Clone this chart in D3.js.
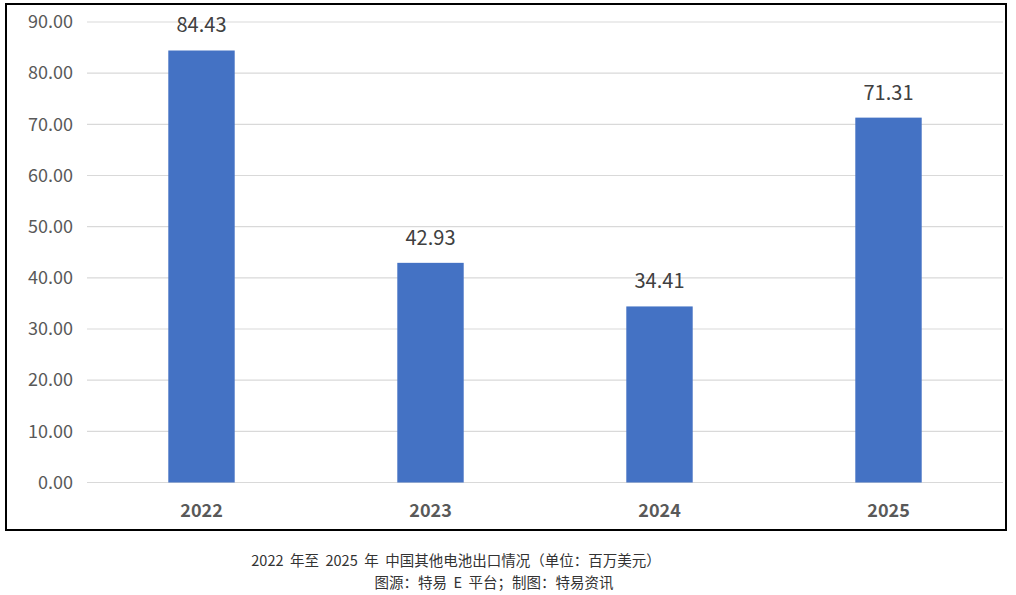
<!DOCTYPE html>
<html>
<head>
<meta charset="utf-8">
<script src="https://cdn.jsdelivr.net/npm/d3@7"></script>
<style>
  body { margin: 0; background: #fff; }
  text { font-family: "Noto Sans CJK SC", "Noto Sans", sans-serif; }
</style>
</head>
<body>
<svg id="chart" width="1016" height="595"></svg>
<script>
const years = ['2022', '2023', '2024', '2025']
const exportValues = [84.43, 42.93, 34.41, 71.31]
const yTicks = [0, 10, 20, 30, 40, 50, 60, 70, 80, 90]
const captionLines = [
    '2022\u00a0\u00a0年至\u00a0\u00a02025\u00a0\u00a0年\u00a0\u00a0中国其他电池出口情况（单位：百万美元）',
    '图源：特易\u00a0\u00a0E\u00a0\u00a0平台；制图：特易资讯'
]

const svg = d3.select('#chart')

// outer frame
svg.append('rect')
    .attr('x', 6).attr('y', 4)
    .attr('width', 1000).attr('height', 526)
    .attr('fill', 'none')
    .attr('stroke', '#000')
    .attr('stroke-width', 2)

const x = d3.scaleBand()
    .domain(years)
    .range([87, 1003])
    .paddingInner(0.71)
    .paddingOuter(0.355)

const y = d3.scaleLinear()
    .domain([0, 90])
    .range([482.5, 22])

// gridlines
svg.append('g')
    .selectAll('line.grid')
    .data(yTicks)
    .join('line')
    .attr('class', 'grid')
    .attr('x1', 87).attr('x2', 1003)
    .attr('y1', d => y(d)).attr('y2', d => y(d))
    .attr('stroke', '#d9d9d9')
    .attr('stroke-width', 1.2)

// y axis labels
const yAxis = svg.append('g')
    .attr('transform', 'translate(77,0)')
    .call(d3.axisLeft(y).tickValues(yTicks).tickFormat(d3.format('.2f')).tickSize(0))
yAxis.select('.domain').remove()
yAxis.selectAll('text')
    .attr('x', -4)
    .attr('fill', '#595959')
    .style('font-size', '18px')

// bars
svg.append('g')
    .selectAll('rect.bar')
    .data(exportValues)
    .join('rect')
    .attr('class', 'bar')
    .attr('x', (d, i) => x(years[i]))
    .attr('width', x.bandwidth())
    .attr('y', d => y(d))
    .attr('height', d => y(0) - y(d))
    .attr('fill', '#4472c4')

// value labels
svg.append('g')
    .selectAll('text.value')
    .data(exportValues)
    .join('text')
    .attr('class', 'value')
    .attr('x', (d, i) => x(years[i]) + x.bandwidth() / 2)
    .attr('y', d => y(d) - 18)
    .attr('text-anchor', 'middle')
    .attr('fill', '#404040')
    .style('font-size', '20px')
    .text(d => d.toFixed(2))

// category labels
const xAxis = svg.append('g')
    .attr('transform', 'translate(0,' + y(0) + ')')
    .call(d3.axisBottom(x).tickSize(0))
xAxis.select('.domain').remove()
xAxis.selectAll('text')
    .attr('dy', 0)
    .attr('y', 34)
    .attr('fill', '#595959')
    .style('font-size', '18px')
    .style('font-weight', 'bold')

// caption
svg.append('g')
    .selectAll('text.caption')
    .data(captionLines)
    .join('text')
    .attr('class', 'caption')
    .attr('x', (d, i) => i == 0 ? 456 : 494)
    .attr('y', (d, i) => 566 + i * 22)
    .attr('text-anchor', 'middle')
    .attr('fill', '#333')
    .style('font-size', '14.5px')
    .text(d => d)
</script>
</body>
</html>
